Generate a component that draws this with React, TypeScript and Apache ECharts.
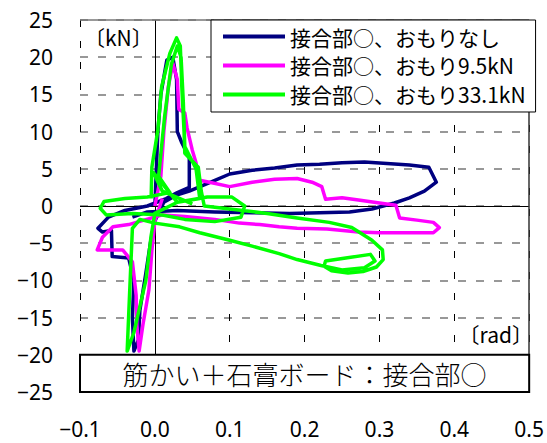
import React, { useEffect, useRef } from "react";
import * as echarts from "echarts";

const seriesNames = ["接合部○、おもりなし", "接合部○、おもり9.5kN", "接合部○、おもり33.1kN"];
const seriesColors = ["#000080", "#FF00FF", "#00FF00"];

const xTicks = { min: -0.1, max: 0.5, interval: 0.1 };
const yTicks = { min: -25, max: 25, interval: 5 };

// おもりなし
const navyX = [0.000, 0.002, 0.004, 0.008, 0.016, 0.024, 0.029, 0.030, 0.036, 0.046, 0.046, 0.030, 0.015, -0.010, -0.040, -0.062, -0.076, -0.070, -0.058, -0.057, -0.035, -0.028, -0.030, -0.028, -0.022, -0.020, -0.012, -0.006, 0.000, 0.012, 0.030, 0.046, 0.077, 0.100, 0.130, 0.160, 0.190, 0.220, 0.250, 0.280, 0.310, 0.340, 0.366, 0.376, 0.360, 0.340, 0.320, 0.290, 0.260, 0.220, 0.180, 0.130, 0.080, 0.030, -0.010, -0.030];
const navyY = [0.0, 5.0, 10.0, 15.0, 19.6, 20.0, 17.0, 10.0, 8.5, 6.5, 2.5, 1.8, 1.0, 0.0, -0.6, -1.5, -3.0, -3.5, -3.3, -6.8, -7.0, -10.0, -15.0, -19.5, -18.0, -14.0, -9.0, -5.0, -2.0, 0.5, 1.5, 2.0, 3.3, 4.3, 4.8, 5.1, 5.5, 5.6, 5.8, 5.9, 5.7, 5.5, 5.2, 3.2, 2.0, 1.1, 0.4, -0.4, -0.8, -0.9, -1.0, -0.9, -0.8, -0.6, -0.8, -1.5];

// おもり9.5kN
const pinkX = [0.000, 0.008, 0.012, 0.018, 0.024, 0.030, 0.032, 0.040, 0.043, 0.050, 0.055, 0.058, 0.073, 0.100, 0.130, 0.160, 0.190, 0.210, 0.223, 0.228, 0.250, 0.272, 0.300, 0.322, 0.327, 0.350, 0.372, 0.380, 0.372, 0.340, 0.300, 0.272, 0.230, 0.190, 0.166, 0.140, 0.113, 0.080, 0.040, 0.010, -0.011, -0.035, -0.056, -0.070, -0.077, -0.060, -0.043, -0.030, -0.025, -0.024, -0.021, -0.016, -0.008, -0.004, 0.000, 0.010];
const pinkY = [0.0, 4.0, 10.0, 16.0, 19.2, 17.0, 13.0, 12.5, 10.5, 7.5, 5.8, 3.5, 3.2, 2.6, 3.2, 3.6, 3.7, 3.2, 2.6, 0.9, 1.1, 0.8, 0.4, 0.1, -1.6, -1.9, -2.2, -2.9, -3.6, -3.6, -3.6, -3.5, -3.1, -3.0, -2.8, -2.5, -2.3, -1.8, -1.4, -1.2, -1.8, -2.5, -2.8, -4.2, -5.9, -5.9, -5.9, -7.5, -12.0, -16.0, -19.5, -16.0, -11.3, -6.0, -2.0, 1.0];

// おもり33.1kN
const greenX = [-0.005, -0.004, 0.004, 0.009, 0.020, 0.029, 0.034, 0.036, 0.039, 0.040, 0.058, 0.062, 0.066, 0.100, 0.150, 0.190, 0.233, 0.263, 0.290, 0.304, 0.305, 0.296, 0.278, 0.258, 0.236, 0.226, 0.228, 0.255, 0.288, 0.294, 0.280, 0.250, 0.222, 0.190, 0.166, 0.130, 0.100, 0.060, 0.033, 0.000, -0.020, -0.030, -0.033, -0.037, -0.028, -0.012, -0.005, 0.000, 0.030, 0.070, 0.103, 0.120, 0.115, 0.080, 0.040, 0.010, -0.030, -0.065, -0.073, -0.068, -0.040, -0.010, 0.020, 0.005, 0.013, 0.022, 0.030, 0.035, 0.038, 0.040, 0.055, 0.060, 0.030, -0.002, 0.010, 0.050];
const greenY = [1.0, 5.2, 10.2, 16.0, 20.5, 22.6, 21.5, 16.0, 10.0, 7.1, 5.2, 2.0, 0.0, -0.4, -1.0, -1.6, -2.2, -2.9, -4.6, -5.9, -7.2, -8.2, -8.8, -9.0, -8.7, -8.1, -7.4, -7.0, -6.5, -7.4, -8.3, -8.6, -8.0, -7.2, -6.4, -5.4, -4.6, -3.6, -2.8, -2.3, -1.8, -3.0, -10.0, -19.5, -17.0, -10.0, -4.0, -1.0, 0.5, 1.2, 1.2, 0.0, -1.5, -2.1, -1.8, -1.2, -1.0, -1.2, -0.3, 0.6, 1.0, 1.2, 1.8, 4.0, 12.0, 19.0, 21.5, 20.0, 14.0, 8.0, 5.0, 1.0, 0.5, 4.5, 2.0, 0.3];

const boxLabel = "筋かい＋石膏ボード：接合部○";
const yUnit = "〔kN〕";
const xUnit = "〔rad〕";

const zip = (xs: number[], ys: number[]) => xs.map((x, i) => [x, ys[i]]);
const minus = (s: string) => s.replace("-", "−");

export default function App() {
  const ref = useRef<HTMLDivElement>(null);
  useEffect(() => {
    if (!ref.current) return;
    const chart = echarts.init(ref.current, null, { renderer: "svg" });
    const data = [zip(navyX, navyY), zip(pinkX, pinkY), zip(greenX, greenY)];
    const font = "'Noto Sans', 'Noto Sans CJK JP', sans-serif";
    const cjk = "'Noto Sans CJK JP', sans-serif";
    chart.setOption({
      animation: false,
      backgroundColor: "#fff",
      grid: { left: 80, right: 16, top: 20, bottom: 51, containLabel: false },
      xAxis: {
        type: "value",
        min: xTicks.min,
        max: xTicks.max,
        interval: xTicks.interval,
        axisLine: { show: false },
        axisTick: { show: false },
        axisLabel: {
          margin: 26,
          fontSize: 21,
          color: "#000",
          fontFamily: font,
          formatter: (v: number) => minus(v.toFixed(1)),
        },
        splitLine: { show: true, lineStyle: { color: "#000", width: 1, type: [7, 14] } },
      },
      yAxis: {
        type: "value",
        min: yTicks.min,
        max: yTicks.max,
        interval: yTicks.interval,
        axisLine: { show: false },
        axisTick: { show: false },
        axisLabel: {
          margin: 27,
          fontSize: 21,
          color: "#000",
          fontFamily: font,
          formatter: (v: number) => minus(String(v)),
        },
        splitLine: { show: true, lineStyle: { color: "#777", width: 1.5, type: [8, 10] } },
      },
      legend: {
        data: seriesNames,
        orient: "vertical",
        left: 211,
        top: 20,
        padding: [6, 10, 7, 12],
        itemGap: 8,
        itemWidth: 62,
        itemHeight: 4,
        icon: "rect",
        backgroundColor: "#fff",
        borderColor: "#000",
        borderWidth: 1,
        borderRadius: 0,
        textStyle: { fontSize: 21, color: "#000", fontFamily: cjk },
      },
      series: [
        {
          type: "line",
          name: "axes",
          data: [],
          silent: true,
          markLine: {
            silent: true,
            symbol: "none",
            z: 1,
            label: { show: false },
            lineStyle: { color: "#000", width: 1, type: "solid" },
            data: [
              { xAxis: 0 },
              { yAxis: 0 },
              { yAxis: 25, lineStyle: { color: "#777", width: 1.5, type: "solid" } },
              { xAxis: 0.5, lineStyle: { color: "#333", width: 1.5, type: "solid" } },
            ],
          },
        },
        ...seriesNames.map((name, i) => ({
          type: "line",
          name,
          data: data[i],
          showSymbol: false,
          symbol: "none",
          z: 3 + i,
          lineStyle: { color: seriesColors[i], width: 3.5, join: "round" },
          itemStyle: { color: seriesColors[i] },
        })),
        {
          type: "line",
          name: "box",
          data: [],
          silent: true,
          z: 20,
          markArea: {
            silent: true,
            z: 20,
            itemStyle: { color: "#fff", borderColor: "#000", borderWidth: 2 },
            label: {
              show: true,
              position: "inside",
              fontSize: 26,
              fontWeight: 300,
              color: "#000",
              fontFamily: cjk,
            },
            data: [[{ name: boxLabel, xAxis: xTicks.min, yAxis: -25 }, { xAxis: xTicks.max, yAxis: -20 }]],
          },
        },
      ],
      graphic: [
        {
          type: "text",
          left: 84,
          top: 26,
          z: 30,
          style: { text: yUnit, fontSize: 21, fill: "#000", fontFamily: cjk },
        },
        {
          type: "text",
          right: 14,
          top: 323,
          z: 30,
          style: { text: xUnit, fontSize: 21, fill: "#000", fontFamily: cjk },
        },
      ],
    });
    return () => chart.dispose();
  }, []);
  return (
    <div
      ref={ref}
      style={{ position: "fixed", left: 0, top: 0, width: 547, height: 443, background: "#fff" }}
    />
  );
}
